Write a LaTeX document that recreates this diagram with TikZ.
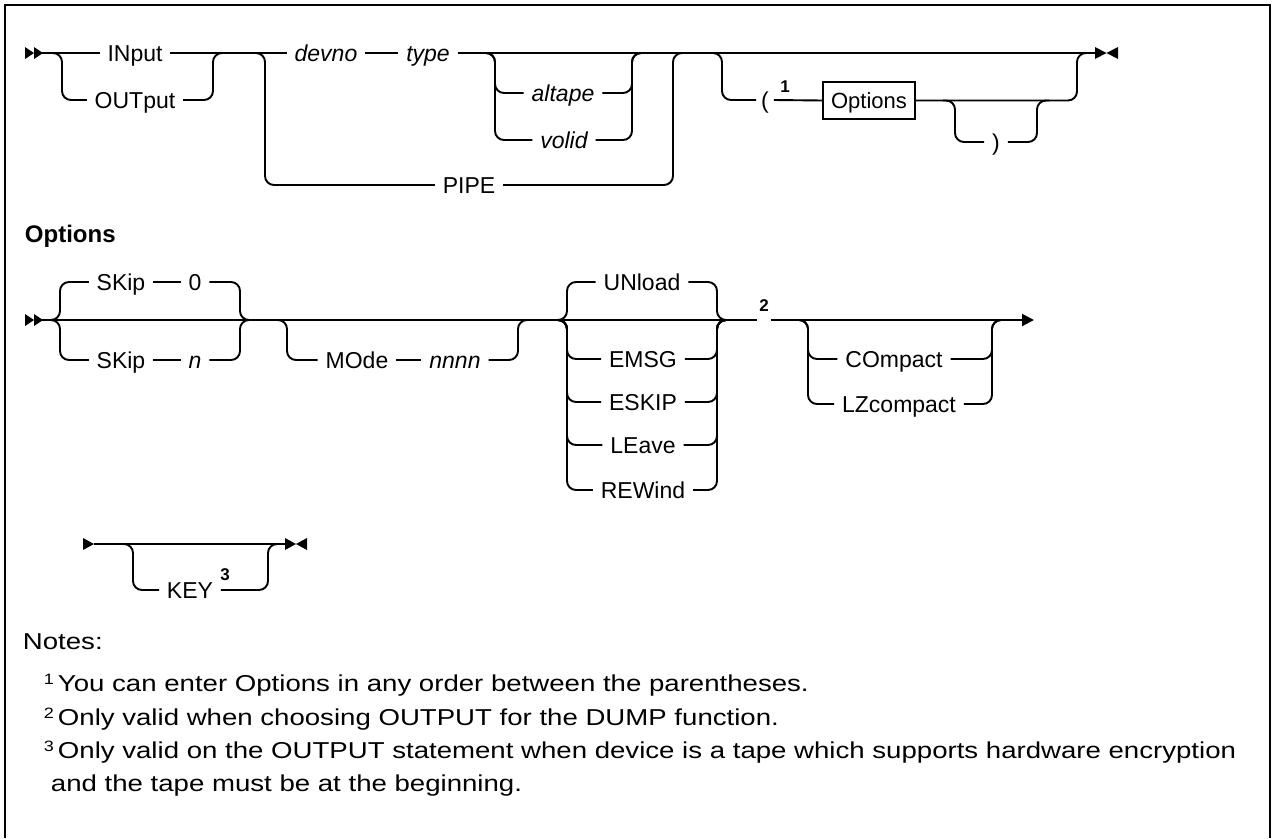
\documentclass[tikz,border=0pt]{standalone}
\usepackage{fontspec}
\setmainfont{Liberation Sans}
\newfontfamily\notefont[FakeStretch=1.2]{Liberation Sans}
\usetikzlibrary{arrows.meta}
\newcommand\nsup[1]{\raisebox{6.5pt}{\fontsize{15}{15}\selectfont #1}}
\begin{document}
\begin{tikzpicture}[x=1pt,y=-1pt,line width=1.9pt,
  lbl/.style={font=\fontsize{23}{25}\selectfont, text height=16.5pt, text depth=0pt, inner xsep=7pt, inner ysep=0pt},
  itl/.style={lbl, font=\fontsize{23}{25}\selectfont\itshape},
  supn/.style={font=\bfseries\fontsize{17}{17}\selectfont, inner sep=0pt, anchor=base},
  rc/.style={rounded corners=9pt},
  note/.style={font=\notefont\fontsize{23}{23}\selectfont, anchor=base west, inner sep=0pt},
  frame/.style={line width=2pt}]
\useasboundingbox (0,0) rectangle (1274,838);
% frame
\draw[frame] (5,838) -- (5,5) -- (1270,5) -- (1270,838);

% ---------------- Row 1 ----------------
\fill (25,47) -- (34,53) -- (25,59) -- cycle;
\fill (34,47) -- (43,53) -- (34,59) -- cycle;
\coordinate (s1) at (42,53);
\node[lbl] (in) at (135,53) {INput};
\node[lbl] (out) at (135,100) {OUTput};
\node[itl] (dev) at (326,53) {devno};
\node[itl] (typ) at (428,53) {type};
\node[itl] (alt) at (563,93) {altape};
\node[itl] (vol) at (564,140) {volid};
\node[lbl] (pipe) at (469,185) {PIPE};
\node[lbl, inner xsep=4pt] (lp) at (765,100) {(};
\node[supn] (n1) at (785,92) {1};
\node[draw, line width=1.1pt, font=\fontsize{22}{24}\selectfont, text height=15.8pt, text depth=0pt, minimum width=92pt, minimum height=37pt, inner sep=0pt] (opt) at (869,100.5) {Options};
\node[lbl] (rp) at (996,142) {)};
\coordinate (e1) at (1095,53);
\fill (1095,47) -- (1106.5,53) -- (1095,59) -- cycle;
\fill (1118,47) -- (1106.5,53) -- (1118,59) -- cycle;

\draw (s1) -- (in.west) (in.east) -- (dev.west) (dev.east) -- (typ.west) (typ.east) -- (e1);
\draw[rc] (50,53) -| (62,100) -- (out.west);
\draw[rc] (out.east) -| (213,53) -- (225,53);
\draw[rc] (253,53) -| (265,185) -- (pipe.west);
\draw[rc] (pipe.east) -| (673,53) -- (685,53);
\draw[rc] (483,53) -| (495,93) -- (alt.west);
\draw[rc] (483,53) -| (495,140) -- (vol.west);
\draw[rc] (alt.east) -| (632,53) -- (644,53);
\draw[rc] (vol.east) -| (632,53) -- (644,53);
\draw[rc] (710,53) -| (722,100) -- (lp.west);
\draw (lp.east) -- (opt.west);
\draw[rc] (opt.east) -| (1077,53) -- (1089,53);
\draw[rc] (943,100.5) -| (955,142) -- (rp.west);
\draw[rc] (rp.east) -| (1037,100.5) -- (1049,100.5);

% ---------------- Row 2 ----------------
\node[font=\bfseries\fontsize{24}{24}\selectfont, anchor=base west, inner sep=0pt] (hd) at (24,242) {Options};
\fill (25,314) -- (34,320) -- (25,326) -- cycle;
\fill (34,314) -- (43,320) -- (34,326) -- cycle;
\coordinate (s2) at (42,320);
\node[lbl] (sk0) at (121,282) {SKip};
\node[lbl] (z0) at (195,282) {0};
\node[lbl] (skn) at (121,360) {SKip};
\node[itl] (nn) at (195,360) {n};
\node[lbl] (mo) at (357,360) {MOde};
\node[itl] (n4) at (455,360) {nnnn};
\node[lbl] (unl) at (642,282) {UNload};
\node[lbl] (emsg) at (643,359) {EMSG};
\node[lbl] (eskip) at (643,402) {ESKIP};
\node[lbl] (leave) at (643,445) {LEave};
\node[lbl] (rew) at (643,490) {REWind};
\node[font=\bfseries\fontsize{17}{17}\selectfont, text height=12pt, text depth=0pt, inner xsep=1pt, inner ysep=8pt, anchor=south] (two) at (764,320) {2};
\node[lbl] (comp) at (894,359) {COmpact};
\node[lbl] (lz) at (899,404) {LZcompact};
\coordinate (e2) at (1034,320);
\coordinate (ul) at (567,320);
\coordinate (ur) at (717,320);
\coordinate (cl) at (808,320);
\coordinate (cr) at (992,320);

\draw (s2) -- (two.south west);
\draw[-{Triangle[length=12pt,width=12pt]}] (two.south east) -- (e2);
\draw[rc] (48,320) -| (60,282) -- (sk0.west);
\draw (sk0.east) -- (z0.west);
\draw[rc] (z0.east) -| (240,320) -- (252,320);
\draw[rc] (48,320) -| (60,360) -- (skn.west);
\draw (skn.east) -- (nn.west);
\draw[rc] (nn.east) -| (240,320) -- (252,320);
\draw[rc] (275,320) -| (287,360) -- (mo.west);
\draw (mo.east) -- (n4.west);
\draw[rc] (n4.east) -| (518,320) -- (530,320);
\foreach \n in {unl,emsg,eskip,leave,rew}{
  \draw[rc] (555,320) -| (ul |- \n.west) -- (\n.west);
  \draw[rc] (\n.east) -| (ur) -- ++(12,0);
}
\foreach \n in {comp,lz}{
  \draw[rc] (796,320) -| (cl |- \n.west) -- (\n.west);
  \draw[rc] (\n.east) -| (cr) -- ++(12,0);
}

% ---------------- Row 3 ----------------
\fill (83,538) -- (94,544) -- (83,550) -- cycle;
\coordinate (s3) at (94,544);
\node[lbl] (key) at (190,590) {KEY};
\node[supn] (n3) at (225,580) {3};
\coordinate (e3) at (285,544);
\fill (285,538) -- (296,544) -- (285,550) -- cycle;
\fill (307,538) -- (296,544) -- (307,550) -- cycle;
\draw (s3) -- (e3);
\draw[rc] (121,544) -| (133,590) -- (key.west);
\draw[rc] (key.east) -| (268,544) -- (280,544);

% ---------------- Notes ----------------
\node[note] (nh) at (22,649) {Notes:};
\node[note] (nt1) at (43,691) {\nsup{1}\hspace{4pt}You can enter Options in any order between the parentheses.};
\node[note] (nt2) at (43,725) {\nsup{2}\hspace{4pt}Only valid when choosing OUTPUT for the DUMP function.};
\node[note] (nt3) at (43,758) {\nsup{3}\hspace{4pt}Only valid on the OUTPUT statement when device is a tape which supports hardware encryption};
\node[note] (nt4) at (50,791) {and the tape must be at the beginning.};
\end{tikzpicture}
\end{document}
